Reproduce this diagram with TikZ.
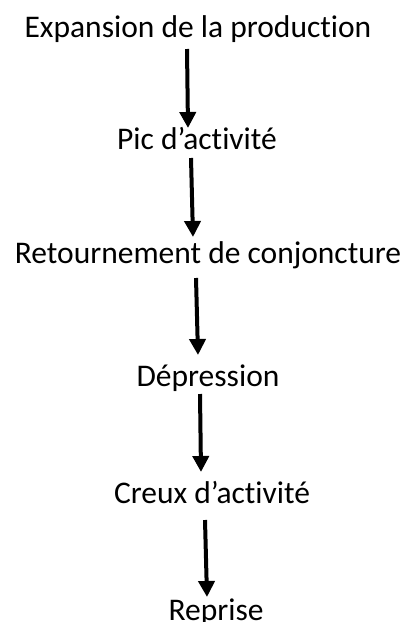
\documentclass[tikz,border=0pt]{standalone}
\usepackage{fontspec}
\setmainfont{Carlito}[Ligatures=NoCommon]
\usetikzlibrary{arrows.meta}
\begin{document}
\begin{tikzpicture}[x=1pt,y=-1pt,
  lbl/.style={anchor=base,inner sep=0pt,font=\fontsize{31.5}{36}\selectfont},
  flow/.style={line width=4pt,-{Triangle[width=16pt,length=16pt]}}]
\useasboundingbox (0,0) rectangle (407,622);
\node[lbl] (e) at (198,37) {Expansion de la production};
\node[lbl] (p) at (197,149) {Pic d’activité};
\node[lbl] (r) at (208,263) {Retournement de conjoncture};
\node[lbl] (d) at (208,386) {Dépression};
\node[lbl] (c) at (212,503) {Creux d’activité};
\node[lbl] (rp) at (216,620) {Reprise};
\coordinate (a1s) at (187,49);  \coordinate (a1e) at (188,128);
\coordinate (a2s) at (191,158); \coordinate (a2e) at (193,237);
\coordinate (a3s) at (196,278); \coordinate (a3e) at (198,355);
\coordinate (a4s) at (200,394); \coordinate (a4e) at (201,472);
\coordinate (a5s) at (205,520); \coordinate (a5e) at (207,597);
\draw[flow] (a1s) -- (a1e);
\draw[flow] (a2s) -- (a2e);
\draw[flow] (a3s) -- (a3e);
\draw[flow] (a4s) -- (a4e);
\draw[flow] (a5s) -- (a5e);
\end{tikzpicture}
\end{document}
